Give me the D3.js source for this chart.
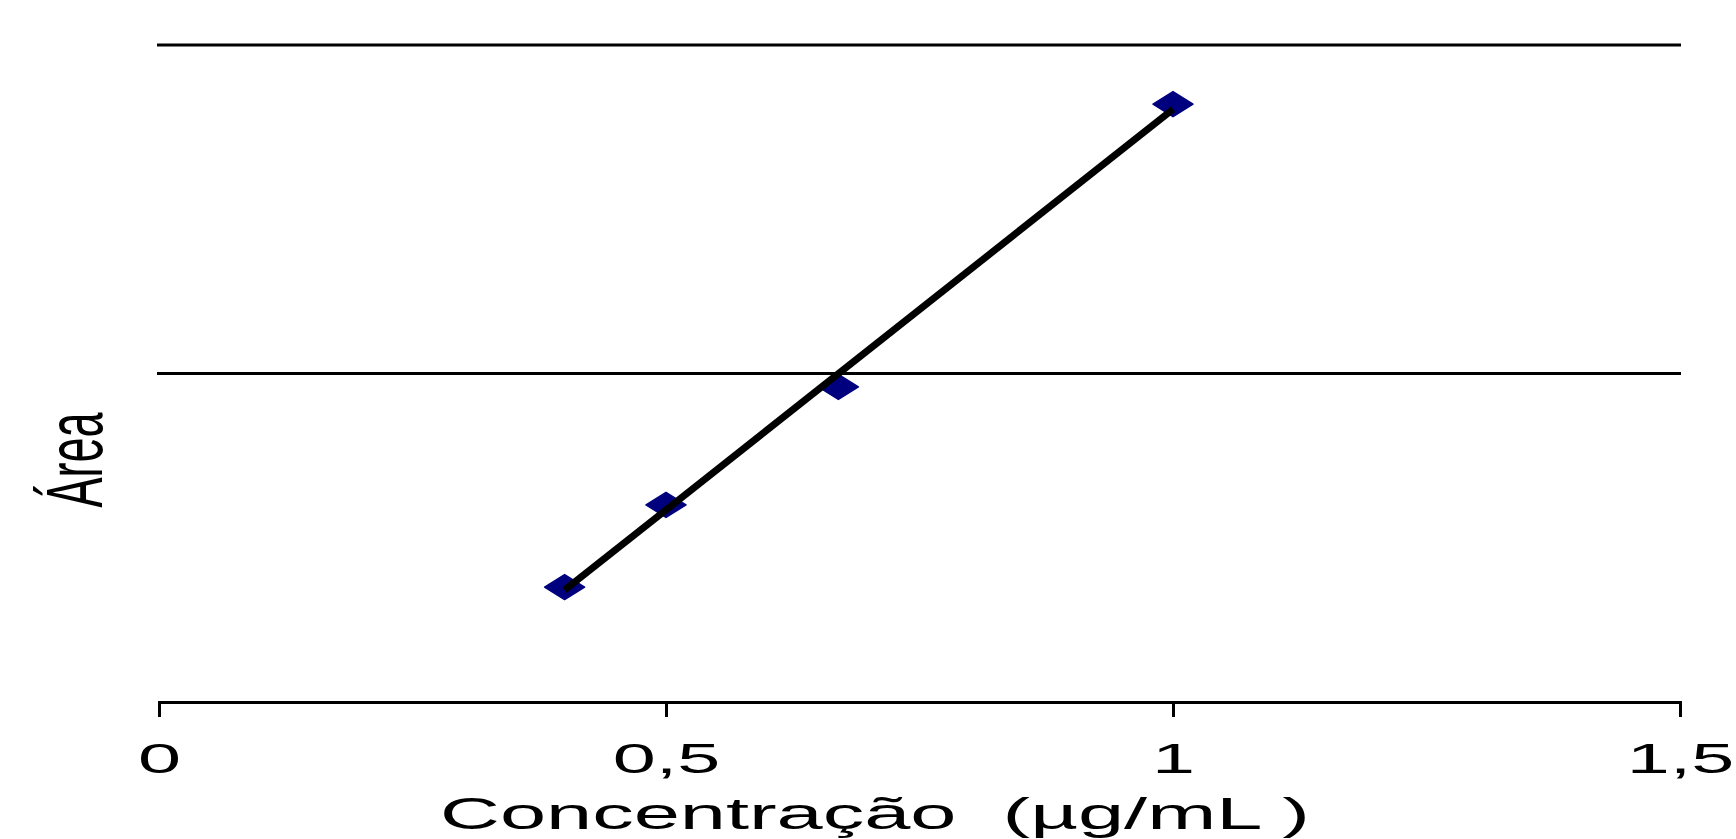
<!DOCTYPE html>
<html>
<head>
<meta charset="utf-8">
<script src="https://cdn.jsdelivr.net/npm/d3@7"></script>
<style>
  html, body { margin: 0; padding: 0; background: #fff; }
  svg { display: block; }
  text { font-family: "Liberation Sans", Arial, sans-serif; fill: #000; }
</style>
</head>
<body>
<div id="chart"></div>
<script>
// ---- data ----
const concentrations = [0.4, 0.5, 0.67, 1.0];          // µg/mL
const areas = [35.0, 60.0, 95.9, 182.0];                // arbitrary area units (no y labels in original)
const xTicks = [0, 0.5, 1, 1.5];
const xTickLabels = ["0", "0,5", "1", "1,5"];
const yGridValues = [100, 200];
const xTitle = "Concentração  (µg/mL )";
const yTitle = "Área";

// ---- layout ----
const W = 1736, H = 839;
const margin = { left: 159, right: 56, top: 45, bottom: 137 };

const svg = d3.select("#chart").append("svg")
  .attr("width", W).attr("height", H);
svg.append("rect").attr("width", W).attr("height", H).attr("fill", "#fff");

const x = d3.scaleLinear().domain([0, 1.5]).range([margin.left, W - margin.right]);
const y = d3.scaleLinear().domain([0, 200]).range([H - margin.bottom, margin.top]);

// gridlines
svg.append("g").selectAll("line").data(yGridValues).join("line")
  .attr("x1", x(0) - 2).attr("x2", x(1.5) + 1)
  .attr("y1", d => y(d)).attr("y2", d => y(d))
  .attr("stroke", "#000").attr("stroke-width", 3);

// x axis
const xAxis = d3.axisBottom(x)
  .tickValues(xTicks)
  .tickFormat((d, i) => xTickLabels[i])
  .tickSize(15).tickSizeOuter(15);
const gx = svg.append("g")
  .attr("transform", `translate(0,${y(0)})`)
  .call(xAxis);
gx.select(".domain").attr("stroke", "#000").attr("stroke-width", 3);
gx.selectAll(".tick line").attr("stroke", "#000").attr("stroke-width", 3);
gx.selectAll(".tick text")
  .attr("y", 71).attr("dy", 0)
  .attr("font-size", 43)
  .attr("font-family", "Liberation Sans, Arial, sans-serif")
  .attr("fill", "#000")
  .attr("text-anchor", "middle")
  .attr("transform", "scale(1.8,1)");

// data markers (diamonds)
const pts = concentrations.map((c, i) => ({ c, a: areas[i] }));
svg.append("g").selectAll("path").data(pts).join("path")
  .attr("transform", d => `translate(${x(d.c)},${y(d.a)})`)
  .attr("d", "M0,-12.5 L20,0 L0,12.5 L-20,0 Z")
  .attr("fill", "#00007f")
  .attr("stroke", "#00007f").attr("stroke-width", 1.5).attr("stroke-linejoin", "round");

// least-squares regression line over the data range
const mx = d3.mean(concentrations), my = d3.mean(areas);
const sxy = d3.sum(concentrations, (c, i) => (c - mx) * (areas[i] - my));
const sxx = d3.sum(concentrations, c => (c - mx) * (c - mx));
const slope = sxy / sxx, intercept = my - slope * mx;
const xr = d3.extent(concentrations);
const fitLine = xr.map(c => ({ c, a: intercept + slope * c }));
svg.append("path")
  .datum(fitLine)
  .attr("d", d3.line().x(d => x(d.c)).y(d => y(d.a)))
  .attr("fill", "none").attr("stroke", "#000").attr("stroke-width", 7)
  .attr("stroke-linecap", "butt");

// axis titles
svg.append("text")
  .attr("x", 875).attr("y", 829)
  .attr("text-anchor", "middle")
  .attr("font-size", 44)
  .attr("textLength", 870).attr("lengthAdjust", "spacingAndGlyphs")
  .style("white-space", "pre")
  .text(xTitle);

svg.append("text")
  .attr("transform", "translate(102,460) rotate(-90) scale(1,1.78)")
  .attr("text-anchor", "middle")
  .attr("font-size", 45)
  .attr("fill", "#111")
  .text(yTitle);
</script>
</body>
</html>
